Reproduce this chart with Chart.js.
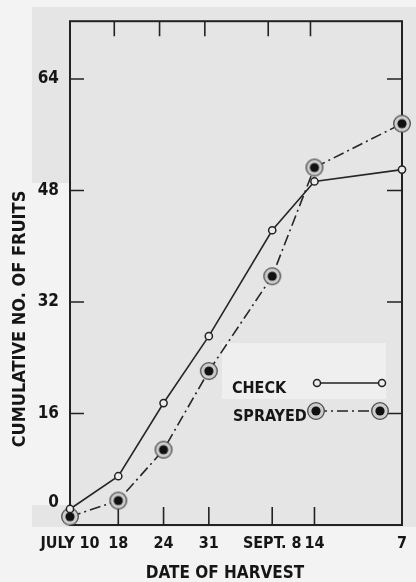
<!DOCTYPE html>
<html>
<head>
<meta charset="utf-8">
<script src="https://cdn.jsdelivr.net/npm/chart.js@4.4.1/dist/chart.umd.min.js"></script>
<style>
  html, body { margin: 0; padding: 0; background: #f3f3f3; }
  #wrap { width: 416px; height: 582px; }
</style>
</head>
<body>
<div id="wrap"><canvas id="harvestChart" width="416" height="582"></canvas></div>
<script>
// harvest dates, spaced along the axis as in the printed figure
const harvestLabels = ['JULY 10', '18', '24', '31', 'SEPT. 8', '14', '7'];
const harvestPos = [0, 8, 15.5, 23, 33.5, 40.5, 55];

// cumulative no. of fruits
const checkFruits = [2.3, 7.0, 17.5, 27.1, 42.3, 49.3, 51.0];
const sprayedFruits = [1.2, 3.5, 10.8, 22.1, 35.7, 51.3, 57.6];

const yTicks = [0, 16, 32, 48, 64];

const INK = '#161616';
const FONT = '"DejaVu Sans Condensed", "DejaVu Sans", sans-serif';

function ringDot() {
  const c = document.createElement('canvas');
  c.width = 20; c.height = 20;
  const g = c.getContext('2d');
  g.beginPath(); g.arc(10, 10, 8.3, 0, Math.PI * 2);
  g.fillStyle = '#cdcdcd'; g.fill();
  g.lineWidth = 1.3; g.strokeStyle = '#4a4a4a'; g.stroke();
  g.beginPath(); g.arc(10, 10, 4.6, 0, Math.PI * 2);
  g.fillStyle = '#111'; g.fill();
  return c;
}
const sprayedPoint = ringDot();

const figurePlugin = {
  id: 'figure',
  beforeDraw(chart) {
    const ctx = chart.ctx, a = chart.chartArea;
    ctx.save();
    ctx.fillStyle = '#f3f3f3';
    ctx.fillRect(0, 0, chart.width, chart.height);
    // scanned paper
    ctx.fillStyle = '#e5e5e5';
    ctx.fillRect(32, 7, 384, 176);
    ctx.fillRect(32, 505, 384, 22);
    ctx.fillRect(a.left - 1, 7, chart.width - a.left + 1, 520);
    // pasted legend label
    ctx.fillStyle = '#efefef';
    ctx.fillRect(222, 343, 164, 56);
    ctx.restore();
  },
  beforeDatasetsDraw(chart) {
    const ctx = chart.ctx, a = chart.chartArea;
    const x = chart.scales.x, y = chart.scales.y;
    ctx.save();
    ctx.strokeStyle = '#222';
    ctx.lineWidth = 2;
    ctx.strokeRect(a.left, a.top, a.right - a.left, a.bottom - a.top);
    ctx.lineWidth = 1.6;
    ctx.beginPath();
    yTicks.forEach(v => {
      if (v === 0) return;
      const py = y.getPixelForValue(v);
      ctx.moveTo(a.left, py); ctx.lineTo(a.left + 14, py);
      ctx.moveTo(a.right, py); ctx.lineTo(a.right - 15, py);
    });
    harvestPos.forEach((v, i) => {
      if (i === 0 || i === harvestPos.length - 1) return;
      const px = x.getPixelForValue(v);
      ctx.moveTo(px, a.bottom); ctx.lineTo(px, a.bottom - 18);
      ctx.moveTo(px - 4, a.top); ctx.lineTo(px - 4, a.top + 15);
    });
    ctx.stroke();
    ctx.restore();
  },
  afterDraw(chart) {
    const ctx = chart.ctx, y = chart.scales.y;
    ctx.save();
    ctx.fillStyle = INK;
    // zero label sits above the bottom edge in the original
    ctx.font = 'bold 17px ' + FONT;
    ctx.textAlign = 'right';
    ctx.textBaseline = 'middle';
    ctx.fillText('0', 59, y.getPixelForValue(0) - 22);

    // legend
    ctx.textAlign = 'left';
    ctx.font = 'bold 16px ' + FONT;
    ctx.fillText('CHECK', 232, 389);
    ctx.fillText('SPRAYED', 233, 417);
    ctx.strokeStyle = '#222';
    ctx.lineWidth = 1.6;
    ctx.beginPath(); ctx.moveTo(317, 383); ctx.lineTo(382, 383); ctx.stroke();
    [317, 382].forEach(px => {
      ctx.beginPath(); ctx.arc(px, 383, 3.5, 0, Math.PI * 2);
      ctx.fillStyle = '#ececec'; ctx.fill();
      ctx.lineWidth = 1.5; ctx.stroke();
    });
    ctx.setLineDash([11, 4, 2, 4]);
    ctx.beginPath(); ctx.moveTo(316, 411); ctx.lineTo(380, 411); ctx.stroke();
    ctx.setLineDash([]);
    [316, 380].forEach(px => ctx.drawImage(sprayedPoint, px - 10, 401));

    // axis titles
    ctx.fillStyle = INK;
    ctx.textAlign = 'center';
    ctx.font = 'bold 17px ' + FONT;
    ctx.fillText('DATE OF HARVEST', 225, 574);
    ctx.translate(20, 319);
    ctx.rotate(-Math.PI / 2);
    ctx.font = 'bold 18px ' + FONT;
    ctx.fillText('CUMULATIVE NO. OF FRUITS', 0, 0);
    ctx.restore();
  }
};

new Chart(document.getElementById('harvestChart'), {
  type: 'line',
  data: {
    datasets: [
      {
        label: 'CHECK',
        data: harvestPos.map((x, i) => ({ x, y: checkFruits[i] })),
        borderColor: '#262626',
        borderWidth: 1.6,
        pointStyle: 'circle',
        pointRadius: 3.6,
        pointBackgroundColor: '#ececec',
        pointBorderColor: '#222',
        pointBorderWidth: 1.5,
        tension: 0,
        clip: false
      },
      {
        label: 'SPRAYED',
        data: harvestPos.map((x, i) => ({ x, y: sprayedFruits[i] })),
        borderColor: '#262626',
        borderWidth: 1.6,
        borderDash: [11, 4, 2, 4],
        pointStyle: sprayedPoint,
        pointRadius: 9,
        tension: 0,
        clip: false
      }
    ]
  },
  options: {
    responsive: false,
    animation: false,
    devicePixelRatio: 1,
    layout: { padding: { top: 19, right: 10, left: 0, bottom: 0 } },
    plugins: { legend: { display: false }, tooltip: { enabled: false } },
    scales: {
      x: {
        type: 'linear',
        min: 0,
        max: 55,
        grid: { display: false, drawTicks: false },
        border: { display: false },
        afterBuildTicks(scale) { scale.ticks = harvestPos.map(v => ({ value: v })); },
        afterFit(scale) { scale.height = 57; },
        ticks: {
          autoSkip: false,
          maxRotation: 0,
          padding: 9,
          color: INK,
          font: { family: FONT, size: 16, weight: 'bold' },
          callback: (v, i) => harvestLabels[i]
        }
      },
      y: {
        min: 0,
        max: 72.3,
        grid: { display: false, drawTicks: false },
        border: { display: false },
        afterBuildTicks(scale) { scale.ticks = yTicks.map(v => ({ value: v })); },
        afterFit(scale) { scale.width = 70; },
        ticks: {
          padding: 11,
          color: INK,
          font: { family: FONT, size: 17, weight: 'bold' },
          callback: v => (v === 0 ? '' : v)
        }
      }
    }
  },
  plugins: [figurePlugin]
});
</script>
</body>
</html>
